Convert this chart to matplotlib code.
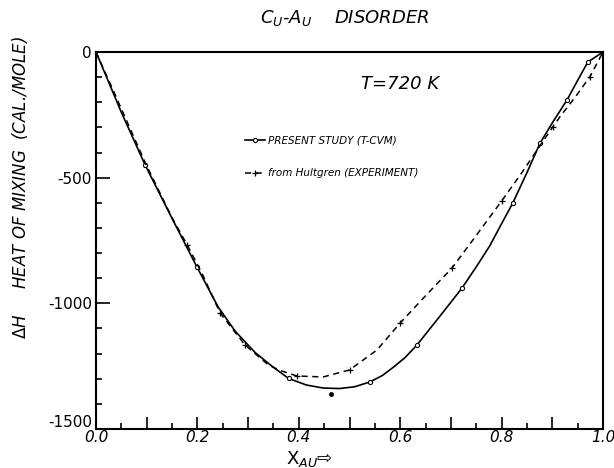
import matplotlib
matplotlib.use("Agg")
import matplotlib.pyplot as plt
from matplotlib.ticker import MultipleLocator
from matplotlib.transforms import ScaledTranslation

# T-CVM calculation (solid curve)
x_cvm = [0.0, 0.05, 0.097, 0.152, 0.199, 0.241, 0.275, 0.314, 0.347, 0.38, 0.415, 0.448,
         0.48, 0.51, 0.54, 0.565, 0.586, 0.61, 0.633, 0.659, 0.678, 0.722, 0.75, 0.777,
         0.8, 0.822, 0.85, 0.876, 0.9, 0.929, 0.95, 0.97, 1.0]
h_cvm = [0, -240, -450, -670, -855, -1015, -1112, -1196, -1250, -1299, -1325, -1337,
         -1339, -1332, -1313, -1287, -1255, -1215, -1166, -1100, -1052, -939, -855, -770,
         -683, -601, -480, -362, -282, -191, -113, -40, 0]
cvm_marks = [2, 4, 9, 14, 18, 21, 25, 27, 29, 31]

# Hultgren experiment (dashed curve)
x_exp = [0.0, 0.03, 0.097, 0.15, 0.18, 0.21, 0.245, 0.294, 0.34, 0.363, 0.396, 0.448, 0.5,
         0.554, 0.6, 0.65, 0.702, 0.75, 0.8, 0.84, 0.87, 0.901, 0.915, 0.945, 0.974, 1.0]
h_exp = [0, -135, -440, -660, -768, -885, -1039, -1166, -1245, -1267, -1289, -1293, -1265,
         -1186, -1078, -970, -860, -730, -593, -480, -390, -298, -258, -180, -99, 0]
exp_marks = [4, 6, 7, 10, 12, 14, 16, 18, 21, 24]

# lone point under the minimum
x_dot = [0.463]
h_dot = [-1361]

xticks = [0.0, 0.1, 0.2, 0.3, 0.4, 0.5, 0.6, 0.7, 0.8, 0.9, 1.0]
xticklabels = ["0.0", "", "0.2", "", "0.4", "", "0.6", "", "0.8", "", "1.0"]
yticks = [0, -500, -1000, -1500]
yticklabels = ["0", "-500", "-1000", "-1500"]

fig = plt.figure(figsize=(6.14, 4.68), dpi=100)
ax = fig.add_axes([96 / 614, 1 - 429 / 468, 507 / 614, 377 / 468])

ax.plot(x_cvm, h_cvm, color="black", lw=1.2, marker="o", ms=3, mfc="white", mew=0.8,
        markevery=cvm_marks, label="PRESENT STUDY (T-CVM)")
ax.plot(x_exp, h_exp, color="black", lw=1.1, ls=(0, (4, 3)), marker="+", ms=5, mew=0.9,
        markevery=exp_marks, label="from Hultgren (EXPERIMENT)")
ax.plot(x_dot, h_dot, ls="none", marker="o", ms=2.5, color="black")

ax.set_xlim(0, 1)
ax.set_ylim(-1500, 0)
ax.set_xticks(xticks)
ax.set_xticklabels(xticklabels, fontsize=11, style="italic")
ax.set_yticks(yticks)
ax.set_yticklabels(yticklabels, fontsize=11)
ax.xaxis.set_minor_locator(MultipleLocator(0.05))
ax.yaxis.set_minor_locator(MultipleLocator(100))
ax.tick_params(which="both", direction="in", top=False, right=False, width=1.2)
ax.tick_params(axis="x", which="major", length=9, pad=1)
ax.tick_params(axis="x", which="minor", length=4)
ax.tick_params(axis="y", which="major", length=10, pad=3)
ax.tick_params(axis="y", which="minor", length=4)
for s in ax.spines.values():
    s.set_linewidth(1.5)
# the -1500 label sits a little above the corner in the original
lab = ax.get_yticklabels()[-1]
lab.set_transform(lab.get_transform() + ScaledTranslation(0, 8 / 100, fig.dpi_scale_trans))

ax.legend(loc="upper left", bbox_to_anchor=(0.285, 0.79), frameon=False,
          prop={"size": 7.5, "style": "italic"}, handlelength=2.0, handletextpad=0.2,
          labelspacing=2.2, borderaxespad=0)

ax.text(0.6, 0.915, "T=720 K", transform=ax.transAxes, ha="center", va="center",
        fontsize=13, style="italic")

fig.text(345 / 614, 1 - 18 / 468, r"C$_U$-A$_U$    DISORDER", ha="center", va="center",
         fontsize=13, style="italic")
fig.text(20 / 614, 1 - 187 / 468, r"$\Delta H$     HEAT OF MIXING  (CAL./MOLE)",
         rotation=90, ha="center", va="center", fontsize=12, style="italic")
fig.text(310 / 614, 1 - 459 / 468, "X$_{AU}$\u21e8", ha="center", va="center", fontsize=13)

fig.savefig("out.png", dpi=100)
